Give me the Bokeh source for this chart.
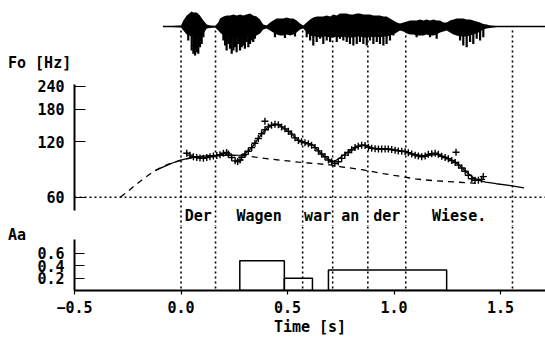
from bokeh.plotting import figure
from bokeh.layouts import column
from bokeh.models import (Range1d, LinearScale, FixedTicker, Span, Div,
                          NumeralTickFormatter)
from bokeh.embed import file_html
from bokeh.resources import INLINE
from bokeh.core.properties import value

# ---------------------------------------------------------------- data
# word boundaries (s) and the words between them
boundaries = [0.0, 0.162, 0.571, 0.712, 0.877, 1.055, 1.556]
words = ["Der", "Wagen", "war", "an", "der", "Wiese."]

# extracted F0 values (+ markers)
f0_t = [0.027, 0.042, 0.058, 0.074, 0.089, 0.105, 0.121, 0.136, 0.152, 0.168,
        0.183, 0.199, 0.214, 0.222, 0.238, 0.254, 0.266, 0.277, 0.285, 0.300,
        0.316, 0.332, 0.347, 0.363, 0.378, 0.394, 0.394, 0.410, 0.425, 0.441,
        0.457, 0.472, 0.488, 0.504, 0.519, 0.535, 0.551, 0.566, 0.582, 0.598,
        0.613, 0.629, 0.645, 0.660, 0.676, 0.692, 0.707, 0.722, 0.738, 0.754,
        0.769, 0.785, 0.801, 0.817, 0.832, 0.848, 0.864, 0.880, 0.895, 0.911,
        0.927, 0.942, 0.958, 0.973, 0.989, 1.005, 1.020, 1.036, 1.052, 1.067,
        1.083, 1.099, 1.114, 1.130, 1.146, 1.161, 1.177, 1.193, 1.208, 1.224,
        1.240, 1.255, 1.271, 1.287, 1.291, 1.303, 1.318, 1.334, 1.349, 1.365,
        1.380, 1.396, 1.411, 1.419]
f0_hz = [104, 101.5, 99.5, 98.5, 98, 97.5, 98.5, 99.5, 100.5, 101,
         102, 104, 105, 103, 98.5, 94.5, 93.8, 95.5, 98.9, 102.5,
         106.5, 111.5, 117.8, 125, 132.5, 139.5, 155, 144.5, 147.5, 149.5,
         148.5, 144.5, 141, 136.9, 132, 126, 122, 120, 118.5, 117,
         115, 111.5, 107, 103, 99.5, 95.5, 93.5, 91.5, 93.5, 97.5,
         101.5, 105, 108.5, 111.5, 113.5, 115, 114.5, 112, 110.5, 110,
         109.5, 109.5, 109.5, 109.5, 109, 108, 107, 106.5, 106, 104.5,
         103, 101.5, 100.5, 99.5, 100.5, 102.5, 103.2, 104, 102.5, 100,
         98.5, 97, 95, 92.5, 105.3, 89.6, 86.5, 83, 79, 75.5,
         74.2, 74.2, 75, 77.6]

# model F0 contour (solid)
model_t = [-0.12, -0.08, -0.04, 0.0, 0.04, 0.08, 0.12, 0.16, 0.20, 0.24,
           0.28, 0.30, 0.32, 0.34, 0.36, 0.38, 0.40, 0.42, 0.44, 0.46,
           0.48, 0.50, 0.52, 0.54, 0.56, 0.58, 0.60, 0.62, 0.64, 0.66,
           0.68, 0.70, 0.72, 0.74, 0.76, 0.78, 0.80, 0.82, 0.84, 0.86,
           0.88, 0.90, 0.95, 1.00, 1.05, 1.10, 1.15, 1.20, 1.25, 1.28,
           1.31, 1.34, 1.37, 1.40, 1.43, 1.48, 1.54, 1.61]
model_hz = [84, 88, 92, 95.5, 98, 99.5, 100.5, 101, 101.3, 101.2,
            101.5, 103.5, 108, 114.5, 123.5, 133, 141, 146.5, 149, 148.5,
            143, 138, 132, 125, 121, 118.5, 117, 115, 108.5, 103,
            98.5, 95, 94, 97, 101, 104.5, 108, 111.5, 114, 115,
            113, 111, 109.5, 108.5, 106.5, 102, 100.5, 102.5, 98.5, 94,
            88.5, 82, 77, 74, 72.5, 71, 69.5, 67.5]

# phrase component / baseline (dashed)
base_t = [-0.285, -0.25, -0.21, -0.17, -0.13, -0.09, -0.05, 0.0, 0.05, 0.10,
          0.15, 0.20, 0.25, 0.30, 0.35, 0.40, 0.45, 0.50, 0.55, 0.60,
          0.65, 0.70, 0.75, 0.80, 0.85, 0.90, 0.95, 1.00, 1.05, 1.10,
          1.15, 1.20, 1.25, 1.30, 1.35, 1.40]
base_hz = [60, 64.5, 70.5, 76.5, 82.5, 87.5, 91.5, 95.5, 98, 100,
           101, 101.3, 101.2, 100.8, 99, 97.3, 95.8, 94.5, 93, 92,
           91, 89.8, 87.8, 86.2, 84.6, 82.6, 80.6, 78.8, 77.2, 75.4,
           74.4, 73.6, 73, 72.4, 71.8, 71]

# accent commands
acc_on = [0.276, 0.485, 0.692]
acc_off = [0.485, 0.617, 1.247]
acc_amp = [0.48, 0.20, 0.33]

# speech waveform: dense body envelope (normalised amplitude)
wave_t = [-0.085, 0.000, 0.011, 0.027, 0.050, 0.058, 0.074, 0.089, 0.105, 0.121,
          0.136, 0.160, 0.175, 0.183, 0.199, 0.215, 0.230, 0.246, 0.262, 0.277,
          0.292, 0.308, 0.324, 0.339, 0.355, 0.371, 0.386, 0.402, 0.418, 0.433,
          0.449, 0.465, 0.480, 0.496, 0.512, 0.527, 0.543, 0.559, 0.574, 0.590,
          0.606, 0.621, 0.637, 0.653, 0.668, 0.684, 0.700, 0.715, 0.731, 0.746,
          0.762, 0.778, 0.793, 0.809, 0.825, 0.840, 0.856, 0.872, 0.887, 0.903,
          0.919, 0.934, 0.950, 0.965, 0.981, 0.997, 1.013, 1.028, 1.044, 1.060,
          1.075, 1.091, 1.107, 1.122, 1.138, 1.153, 1.169, 1.185, 1.200, 1.216,
          1.232, 1.247, 1.263, 1.279, 1.294, 1.310, 1.325, 1.341, 1.357, 1.372,
          1.388, 1.404, 1.419, 1.435, 1.451, 1.482, 1.512, 1.709]
wave_hi = [0, 0.03, 0.2, 0.37, 0.5, 0.47, 0.47, 0.37, 0.2, 0.07,
           0.03, 0.02, 0.13, 0.27, 0.33, 0.37, 0.37, 0.4, 0.37, 0.4,
           0.37, 0.4, 0.43, 0.37, 0.33, 0.23, 0.07, 0.03, 0.13, 0.2,
           0.27, 0.27, 0.27, 0.3, 0.27, 0.27, 0.2, 0.1, 0.03, 0.13,
           0.23, 0.3, 0.33, 0.33, 0.33, 0.37, 0.33, 0.4, 0.37, 0.43,
           0.43, 0.43, 0.4, 0.4, 0.43, 0.43, 0.4, 0.4, 0.4, 0.37,
           0.37, 0.37, 0.33, 0.33, 0.27, 0.2, 0.13, 0.1, 0.13, 0.17,
           0.2, 0.2, 0.2, 0.23, 0.2, 0.23, 0.2, 0.23, 0.2, 0.2,
           0.13, 0.13, 0.2, 0.23, 0.27, 0.27, 0.27, 0.23, 0.23, 0.2,
           0.17, 0.13, 0.08, 0.07, 0.03, 0.02, 0, 0]
wave_lo = [0, -0.03, -0.13, -0.27, -0.33, -0.37, -0.37, -0.33, -0.23, -0.07,
           -0.05, -0.03, -0.13, -0.2, -0.3, -0.37, -0.37, -0.37, -0.37, -0.37,
           -0.37, -0.33, -0.33, -0.33, -0.3, -0.23, -0.1, -0.07, -0.13, -0.2,
           -0.27, -0.3, -0.3, -0.27, -0.3, -0.27, -0.2, -0.1, -0.07, -0.2,
           -0.3, -0.33, -0.33, -0.37, -0.33, -0.33, -0.37, -0.37, -0.33, -0.37,
           -0.33, -0.37, -0.37, -0.37, -0.33, -0.33, -0.37, -0.37, -0.33, -0.37,
           -0.33, -0.37, -0.33, -0.33, -0.3, -0.27, -0.2, -0.13, -0.17, -0.23,
           -0.27, -0.27, -0.3, -0.3, -0.3, -0.27, -0.3, -0.3, -0.27, -0.2,
           -0.17, -0.13, -0.2, -0.27, -0.3, -0.33, -0.33, -0.33, -0.3, -0.27,
           -0.23, -0.17, -0.1, -0.07, -0.05, -0.02, 0, 0]

# downward waveform peaks (normalised amplitude)
spike_t = [0.034, 0.050, 0.058, 0.066, 0.074, 0.081, 0.089, 0.097, 0.105,
           0.199, 0.207, 0.214, 0.222, 0.230, 0.238, 0.246, 0.254, 0.261,
           0.269, 0.277, 0.285, 0.292, 0.300, 0.308, 0.316, 0.324, 0.332,
           0.339, 0.347, 0.441, 0.488, 0.535,
           0.590, 0.606, 0.621, 0.637, 0.653, 0.668, 0.684, 0.700, 0.715,
           0.731, 0.746, 0.762, 0.778, 0.793, 0.809, 0.825, 0.840, 0.856,
           0.872, 0.887, 0.903, 0.919, 0.934, 0.950, 0.965, 0.981, 0.997,
           1.106, 1.169, 1.200,
           1.310, 1.325, 1.341, 1.357, 1.372, 1.388, 1.404, 1.419]
spike_lo = [-0.47, -0.8, -0.91, -0.97, -0.86, -0.91, -0.69, -0.58, -0.36,
            -0.47, -0.63, -0.8, -0.58, -0.74, -0.91, -0.8, -0.69, -0.86,
            -0.58, -0.8, -0.69, -0.63, -0.74, -0.52, -0.69, -0.58, -0.47,
            -0.52, -0.41, -0.36, -0.38, -0.33,
            -0.36, -0.47, -0.63, -0.52, -0.41, -0.58, -0.47, -0.52, -0.36,
            -0.52, -0.41, -0.47, -0.52, -0.58, -0.63, -0.58, -0.52, -0.58,
            -0.63, -0.47, -0.58, -0.52, -0.58, -0.63, -0.58, -0.47, -0.3,
            -0.36, -0.36, -0.41,
            -0.47, -0.63, -0.69, -0.52, -0.58, -0.41, -0.47, -0.36]

f0_ticks = [60, 120, 180, 240]
aa_ticks = [0.2, 0.4, 0.6]
time_ticks = [-0.5, 0.0, 0.5, 1.0, 1.5]

# ---------------------------------------------------------------- style
FONT = "DejaVu Sans Mono"
FSIZE = "15px"
FSTYLE = "bold"
DOT = "2 3"
word_mid = [(a + b) / 2 for a, b in zip(boundaries[:-1], boundaries[1:])]

x_range = Range1d(-0.5, 1.711)

# ---------------------------------------------------------------- F0 panel
p1 = figure(width=545, height=226, x_range=x_range,
            y_range=Range1d(41.6, 701.3), y_axis_type="log",
            x_axis_location=None, toolbar_location=None,
            output_backend="svg", min_border_left=74, min_border_right=0,
            min_border_top=0, min_border_bottom=0)
p1.extra_y_ranges = {"wave": Range1d(-6.667, 0.867)}
p1.extra_y_scales = {"wave": LinearScale()}
p1.grid.visible = False
p1.outline_line_color = None
p1.background_fill_color = "white"
p1.border_fill_color = "white"

ya = p1.yaxis[0]
ya.ticker = FixedTicker(ticks=f0_ticks)
ya.formatter = NumeralTickFormatter(format="0")
ya.bounds = (50.8, 245)
ya.axis_line_width = 2
ya.major_tick_in = 11
ya.major_tick_out = 0
ya.major_tick_line_width = 1.2
ya.minor_tick_line_color = None
ya.major_label_standoff = 10
ya.major_label_text_font = FONT
ya.major_label_text_font_size = FSIZE
ya.major_label_text_font_style = FSTYLE
ya.major_label_text_color = "black"

# waveform: body plus individual downward peaks
p1.varea(x=wave_t, y1=wave_lo, y2=wave_hi, y_range_name="wave",
         fill_color="black")
p1.segment(x0=spike_t, y0=[0] * len(spike_t), x1=spike_t, y1=spike_lo,
           y_range_name="wave", line_color="black", line_width=2.2)
p1.line(x=[wave_t[0], wave_t[-1]], y=[0, 0], y_range_name="wave",
        line_color="black", line_width=1.5)

# segment boundaries (dotted)
n = len(boundaries)
p1.segment(x0=boundaries, y0=[-0.13] * n, x1=boundaries,
           y1=[p1.extra_y_ranges["wave"].start] * n, y_range_name="wave",
           line_color="black", line_width=1.6, line_dash=DOT)
p1.add_layout(Span(location=60, dimension="width", line_color="black",
                   line_width=1.6, line_dash=DOT))

# F0 curves
p1.line(base_t, base_hz, line_color="black", line_width=1.3, line_dash="6 5")
p1.line(model_t, model_hz, line_color="black", line_width=1.3)
p1.scatter(f0_t, f0_hz, marker="cross", size=7, line_color="black",
           line_width=1.4)

# words
p1.text(x=word_mid, y=[47.2] * len(words), text=words,
        text_font=value(FONT), text_font_size=value(FSIZE),
        text_font_style=FSTYLE,
        text_align="center", text_baseline="middle", text_color="black")

# ---------------------------------------------------------------- Aa panel
p2 = figure(width=545, height=112, x_range=x_range, y_range=Range1d(0, 1.035),
            toolbar_location=None, output_backend="svg",
            min_border_left=74, min_border_right=0, min_border_top=0,
            min_border_bottom=47)
p2.grid.visible = False
p2.outline_line_color = None
p2.background_fill_color = "white"
p2.border_fill_color = "white"

for b in boundaries:
    p2.add_layout(Span(location=b, dimension="height", line_color="black",
                       line_width=1.6, line_dash=DOT))

p2.quad(left=acc_on, right=acc_off, bottom=0, top=acc_amp,
        fill_color=None, line_color="black", line_width=1.5)

ay = p2.yaxis[0]
ay.ticker = FixedTicker(ticks=aa_ticks)
ay.formatter = NumeralTickFormatter(format="0.0")
ay.bounds = (0, 0.82)
ay.axis_line_width = 2
ay.major_tick_in = 10
ay.major_tick_out = 0
ay.major_tick_line_width = 1.2
ay.minor_tick_line_color = None
ay.major_label_standoff = 10
ay.major_label_text_font = FONT
ay.major_label_text_font_size = FSIZE
ay.major_label_text_font_style = FSTYLE
ay.major_label_text_color = "black"

ax = p2.xaxis[0]
ax.ticker = FixedTicker(ticks=time_ticks)
ax.formatter = NumeralTickFormatter(format="0.0")
ax.major_label_overrides = {-0.5: "\u22120.5"}
ax.axis_line_width = 2
ax.major_tick_in = 0
ax.major_tick_out = 4
ax.major_tick_line_width = 1.2
ax.minor_tick_line_color = None
ax.major_label_standoff = 6
ax.major_label_text_font = FONT
ax.major_label_text_font_size = FSIZE
ax.major_label_text_font_style = FSTYLE
ax.major_label_text_color = "black"
ax.axis_label = "Time [s]"
ax.axis_label_text_font = FONT
ax.axis_label_text_font_size = FSIZE
ax.axis_label_text_font_style = FSTYLE
ax.axis_label_text_color = "black"
ax.axis_label_standoff = 2


# panel captions placed over the left margin
def caption(text, left, top):
    return Div(text=text, width=70, height=18,
               styles={"position": "absolute", "left": f"{left}px",
                       "top": f"{top}px", "font-family": FONT,
                       "font-size": FSIZE, "font-weight": FSTYLE,
                       "line-height": "18px", "color": "black",
                       "white-space": "nowrap", "z-index": "10"})


layout = column(p1, p2, caption("Fo [Hz]", 3, 49),
                caption("Aa", 3, 221), spacing=0)
open("out.html", "w").write(file_html(layout, INLINE))
